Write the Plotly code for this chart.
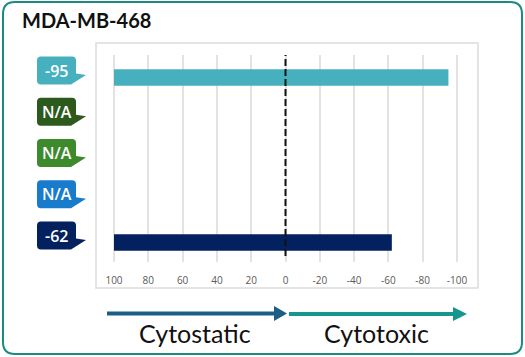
import plotly.graph_objects as go

# ---------------- data ----------------
categories = ["Row 1", "Row 2", "Row 3", "Row 4", "Row 5"]
values = [-95, None, None, None, -62]
value_labels = ["-95", "N/A", "N/A", "N/A", "-62"]
bar_colors = ["#47b0bf", "#2b5a1c", "#3d8a2c", "#197bcc", "#03215e"]
bar_base = 100
tick_vals = [100, 80, 60, 40, 20, 0, -20, -40, -60, -80, -100]
tick_text = [str(v) for v in tick_vals]
title_text = "MDA-MB-468"
left_label = "Cytostatic"
right_label = "Cytotoxic"

# ---------------- layout geometry (screen pixels) ----------------
W, H = 525, 357
PL, PR, PT, PB = 96, 478, 55, 262


def px2paper_x(px):
    return (px - PL) / (PR - PL)


def px2paper_y(py):
    return (PB - py) / (PB - PT)


def path_from(points_cmds):
    out = []
    for cmd, pts in points_cmds:
        coords = [f"{x:.2f},{-y:.2f}" for (x, y) in pts]
        out.append(cmd + " " + " ".join(coords))
    return " ".join(out) + " Z"


def rounded_rect(x0, y0, x1, y1, r, tail=None):
    cmds = [("M", [(x0 + r, y0)]),
            ("L", [(x1 - r, y0)]),
            ("Q", [(x1, y0), (x1, y0 + r)])]
    if tail:
        cmds.append(("L", [tail[0]]))
        cmds.append(("L", [tail[1]]))
        cmds.append(("L", [tail[2]]))
    else:
        cmds.append(("L", [(x1, y1 - r)]))
        cmds.append(("Q", [(x1, y1), (x1 - r, y1)]))
    cmds += [("L", [(x0 + r, y1)]),
             ("Q", [(x0, y1), (x0, y1 - r)]),
             ("L", [(x0, y0 + r)]),
             ("Q", [(x0, y0), (x0 + r, y0)])]
    return path_from(cmds)


def screen_shape(path, color=None, line_color=None, line_width=0):
    return dict(type="path", xref="paper", yref="paper",
                xsizemode="pixel", ysizemode="pixel",
                xanchor=px2paper_x(0), yanchor=px2paper_y(0),
                path=path,
                fillcolor=color if color else "rgba(0,0,0,0)",
                line=dict(color=line_color if line_color else "rgba(0,0,0,0)",
                          width=line_width),
                layer="above")


bar_x = [(v - bar_base) if v is not None else None for v in values]

fig = go.Figure()
fig.add_trace(go.Bar(
    y=categories, x=bar_x, base=[bar_base] * len(categories),
    orientation="h", marker=dict(color=bar_colors, line=dict(width=0)),
    width=0.4, hoverinfo="skip", showlegend=False,
))

shapes = []
annotations = []

# outer rounded border
shapes.append(screen_shape(rounded_rect(3, 2, 522, 354, 12),
                           line_color="#1a8a83", line_width=2))
# plot frame
shapes.append(dict(type="rect", xref="paper", yref="paper",
                   x0=px2paper_x(96), x1=px2paper_x(478),
                   y0=px2paper_y(288), y1=px2paper_y(43),
                   line=dict(color="#dcdcdc", width=1.5), layer="below"))
# dashed zero line
shapes.append(dict(type="line", xref="x", yref="paper", x0=0, x1=0,
                   y0=px2paper_y(256), y1=1,
                   line=dict(color="#111111", width=2, dash="7px,3px"),
                   layer="above"))

# callouts
cx = 56
for i, (lab, col) in enumerate(zip(value_labels, bar_colors)):
    L, R, T, B = -19, 20, -21, 7
    p = rounded_rect(L, T, R, B, 4,
                     tail=[(R, -4), (30, -2.5), (R - 5, B)])
    shapes.append(dict(type="path", xref="paper", yref="y",
                       xsizemode="pixel", ysizemode="pixel",
                       xanchor=px2paper_x(cx), yanchor=categories[i],
                       path=p, fillcolor=col,
                       line=dict(color="rgba(0,0,0,0)", width=0),
                       layer="above"))
    annotations.append(dict(x=px2paper_x(cx + 0.5), y=categories[i], xref="paper",
                            yref="y", text=lab, showarrow=False,
                            yshift=7, xanchor="center", yanchor="middle",
                            font=dict(family="Open Sans", size=16, weight=600,
                                      color="white")))

# bottom arrows
blue = "#1b5e85"
teal = "#15968f"
shapes.append(screen_shape(path_from([
    ("M", [(107, 311.5)]), ("L", [(274, 311.5)]), ("L", [(274, 306)]),
    ("L", [(287, 313.5)]), ("L", [(274, 321)]), ("L", [(274, 315.5)]),
    ("L", [(107, 315.5)])]), color=blue))
shapes.append(screen_shape(path_from([
    ("M", [(289, 312)]), ("L", [(453, 312)]), ("L", [(453, 307)]),
    ("L", [(467, 314)]), ("L", [(453, 321)]), ("L", [(453, 316)]),
    ("L", [(289, 316)])]), color=teal))

annotations.append(dict(x=px2paper_x(20), y=px2paper_y(20), xref="paper",
                        yref="paper", text=f"<b>{title_text}</b>",
                        showarrow=False, xanchor="left", yanchor="middle",
                        font=dict(family="Lato", size=20, color="#111111")))
annotations.append(dict(x=px2paper_x(195), y=px2paper_y(333), xref="paper",
                        yref="paper", text=left_label, showarrow=False,
                        xanchor="center", yanchor="middle",
                        font=dict(family="Lato", size=25, color="#111111")))
annotations.append(dict(x=px2paper_x(376), y=px2paper_y(333), xref="paper",
                        yref="paper", text=right_label, showarrow=False,
                        xanchor="center", yanchor="middle",
                        font=dict(family="Lato", size=25, color="#111111")))

# x range so that 100 -> px 114 and -100 -> px 457
ppu = (457 - 114) / 200.0
x_left = 100 + (114 - PL) / ppu
x_right = -100 - (PR - 457) / ppu
# y range so that category centres fall at 77.5 .. 242.5
cat_px = (242.5 - 77.5) / (len(categories) - 1)
y_top = -(77.5 - PT) / cat_px
y_bot = (len(categories) - 1) + (PB - 242.5) / cat_px

fig.update_layout(
    width=W, height=H, autosize=False,
    margin=dict(l=PL, r=W - PR, t=PT, b=H - PB, pad=0),
    paper_bgcolor="white", plot_bgcolor="white",
    shapes=shapes, annotations=annotations,
    xaxis=dict(range=[x_left, x_right], tickvals=tick_vals, ticktext=tick_text,
               showgrid=True, gridcolor="#e3e3e3", gridwidth=1.5,
               zeroline=False, showline=False, ticks="outside", ticklen=9,
               tickcolor="rgba(0,0,0,0)",
               tickfont=dict(family="Open Sans", size=10, color="#595959"),
               fixedrange=True),
    yaxis=dict(type="category", categoryarray=categories, range=[y_bot, y_top],
               showgrid=False, zeroline=False, showline=False,
               showticklabels=False, ticks="", fixedrange=True),
    bargap=0.6,
)

fig.write_html("out.html", config={"displayModeBar": False},
               post_script="document.body.style.margin='0';"
                           "document.documentElement.style.overflow='hidden';")
